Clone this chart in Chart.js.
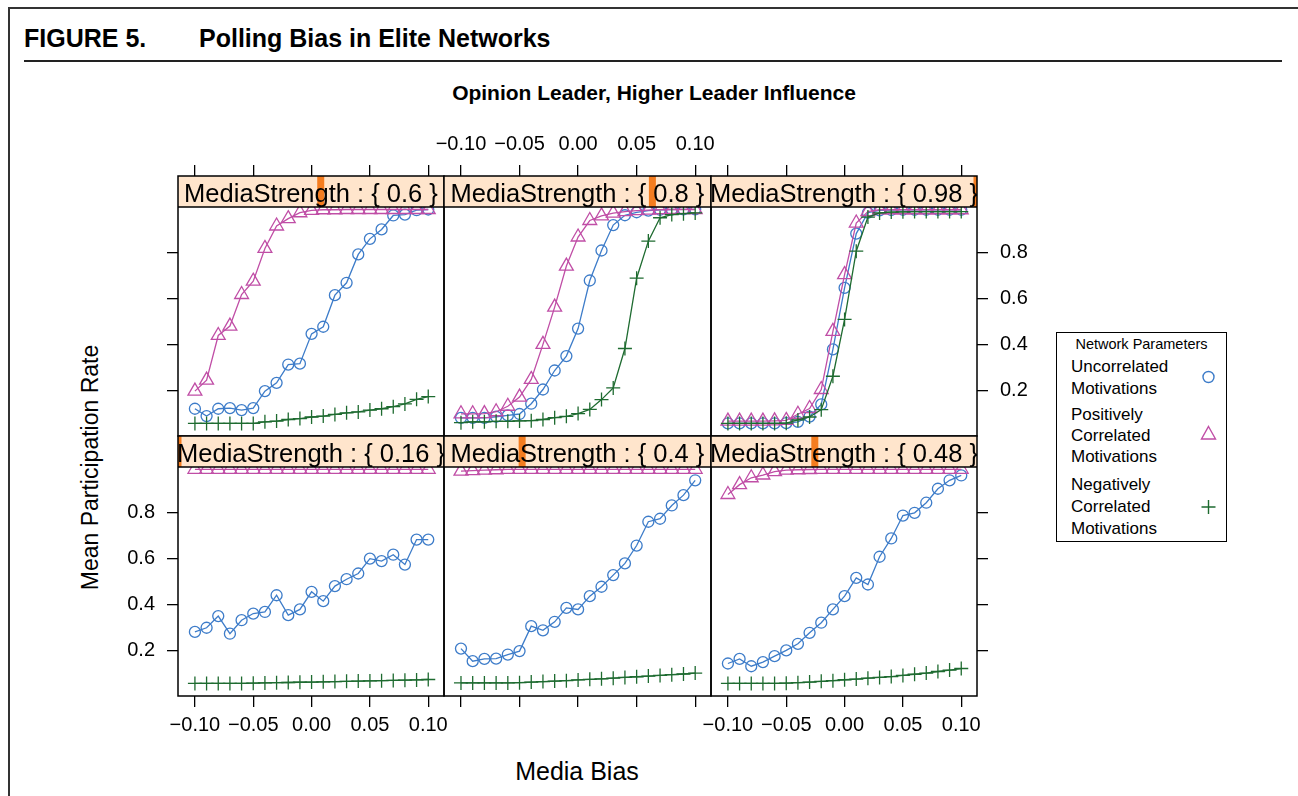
<!DOCTYPE html>
<html>
<head>
<meta charset="utf-8">
<script src="https://cdn.jsdelivr.net/npm/chart.js@4.4.1/dist/chart.umd.min.js"></script>
<style>
  html, body { margin: 0; padding: 0; background: #fff; }
  #page { position: relative; width: 1298px; height: 796px; overflow: hidden; background: #fff;
          font-family: "Liberation Sans", Arial, Helvetica, sans-serif; color: #000; }
  .abs { position: absolute; white-space: nowrap; }
  canvas.panel { position: absolute; }
  .lg { position: absolute; left: 1071px; font-size: 17px; line-height: 17px; }
</style>
</head>
<body>
<div id="page">
  <!-- page frame and figure heading -->
  <div class="abs" style="left:8px;top:7px;width:1290px;height:1.5px;background:#333;"></div>
  <div class="abs" style="left:8px;top:7px;width:1.5px;height:789px;background:#333;"></div>
  <div class="abs" style="left:24px;top:26px;font-size:25px;line-height:25px;font-weight:bold;">FIGURE 5.</div>
  <div class="abs" style="left:199px;top:26px;font-size:25px;line-height:25px;font-weight:bold;">Polling Bias in Elite Networks</div>
  <div class="abs" style="left:24px;top:60px;width:1258px;height:1.5px;background:#222;"></div>
  <div class="abs" style="left:354px;top:82px;width:600px;text-align:center;font-size:21px;line-height:21px;font-weight:bold;">Opinion Leader, Higher Leader Influence</div>

  <!-- axis titles -->
  <div class="abs" style="left:-110px;top:456px;width:400px;text-align:center;font-size:23px;line-height:23px;transform:rotate(-90deg);">Mean Participation Rate</div>
  <div class="abs" style="left:377px;top:759px;width:400px;text-align:center;font-size:25px;line-height:25px;">Media Bias</div>

  <!-- key -->
  <div class="abs" style="left:1056px;top:332px;width:171px;height:210px;border:1.5px solid #000;box-sizing:border-box;"></div>
  <div class="abs" style="left:1056px;top:337px;width:171px;text-align:center;font-size:14.5px;line-height:15px;">Network Parameters</div>
  <div class="lg" style="top:358px;">Uncorrelated</div>
  <div class="lg" style="top:380px;">Motivations</div>
  <div class="lg" style="top:406px;">Positively</div>
  <div class="lg" style="top:427px;">Correlated</div>
  <div class="lg" style="top:448px;">Motivations</div>
  <div class="lg" style="top:476px;">Negatively</div>
  <div class="lg" style="top:498px;">Correlated</div>
  <div class="lg" style="top:520px;">Motivations</div>
  <svg class="abs" style="left:1196px;top:364px;" width="26" height="160" viewBox="1196 364 26 160">
    <circle cx="1208.5" cy="377" r="5.5" fill="none" stroke="#3d7cc9" stroke-width="1.4"/>
    <polygon points="1208.5,426.5 1215.5,439 1201.5,439" fill="none" stroke="#c04ea6" stroke-width="1.4"/>
    <path d="M1201.5 507 H1215.5 M1208.5 500 V514" stroke="#1e6b30" stroke-width="1.4" fill="none"/>
  </svg>
</div>

<script>
// ---- values ----
const mediaBias = [-0.10, -0.09, -0.08, -0.07, -0.06, -0.05, -0.04, -0.03, -0.02, -0.01, 0.00,
                   0.01, 0.02, 0.03, 0.04, 0.05, 0.06, 0.07, 0.08, 0.09, 0.10];

const xTicks = [-0.10, -0.05, 0.00, 0.05, 0.10];
const xTickLabels = ['\u22120.10', '\u22120.05', '0.00', '0.05', '0.10'];
const yTicks = [0.2, 0.4, 0.6, 0.8];
const yTickLabels = ['0.2', '0.4', '0.6', '0.8'];

const mediaStrength = [0.6, 0.8, 0.98, 0.16, 0.4, 0.48];
const strengthLabels = ['0.6', '0.8', '0.98', '0.16', '0.4', '0.48'];

// MediaStrength 0.6
const uncorr06 = [0.119, 0.087, 0.119, 0.122, 0.113, 0.122, 0.196, 0.232, 0.312, 0.316, 0.446,
                  0.477, 0.615, 0.669, 0.793, 0.861, 0.902, 0.963, 0.967, 0.986, 0.989];
const pos06    = [0.196, 0.244, 0.439, 0.480, 0.618, 0.676, 0.819, 0.917, 0.949, 0.975, 0.985,
                  0.988, 0.988, 0.989, 0.989, 0.989, 0.989, 0.989, 0.989, 0.989, 0.989];
const neg06    = [0.055, 0.055, 0.055, 0.055, 0.055, 0.055, 0.062, 0.065, 0.072, 0.076, 0.083,
                  0.087, 0.094, 0.101, 0.105, 0.113, 0.119, 0.128, 0.140, 0.160, 0.172];

// MediaStrength 0.8
const uncorr08 = [0.079, 0.079, 0.079, 0.084, 0.090, 0.096, 0.141, 0.203, 0.286, 0.349, 0.469,
                  0.679, 0.810, 0.921, 0.964, 0.977, 0.984, 0.988, 0.989, 0.990, 0.990];
const pos08    = [0.097, 0.097, 0.098, 0.106, 0.130, 0.170, 0.247, 0.400, 0.563, 0.742, 0.869,
                  0.941, 0.961, 0.973, 0.980, 0.984, 0.986, 0.988, 0.989, 0.989, 0.989];
const neg08    = [0.058, 0.062, 0.062, 0.064, 0.064, 0.066, 0.067, 0.072, 0.080, 0.086, 0.098,
                  0.116, 0.159, 0.210, 0.382, 0.689, 0.851, 0.953, 0.967, 0.971, 0.974];

// MediaStrength 0.98
const uncorr098 = [0.055, 0.055, 0.055, 0.055, 0.055, 0.056, 0.062, 0.085, 0.138, 0.378, 0.647,
                   0.884, 0.975, 0.985, 0.987, 0.988, 0.988, 0.988, 0.988, 0.988, 0.988];
const pos098    = [0.065, 0.065, 0.065, 0.065, 0.066, 0.068, 0.095, 0.120, 0.203, 0.457, 0.705,
                   0.930, 0.980, 0.988, 0.988, 0.988, 0.988, 0.988, 0.988, 0.988, 0.988];
const neg098    = [0.055, 0.055, 0.055, 0.055, 0.055, 0.056, 0.070, 0.083, 0.115, 0.261, 0.509,
                   0.807, 0.956, 0.974, 0.978, 0.979, 0.980, 0.980, 0.980, 0.980, 0.980];

// MediaStrength 0.16
const uncorr016 = [0.280, 0.298, 0.349, 0.272, 0.331, 0.360, 0.367, 0.440, 0.353, 0.378, 0.455,
                   0.414, 0.480, 0.510, 0.535, 0.600, 0.589, 0.617, 0.574, 0.683, 0.683];
const pos016    = [0.990, 0.990, 0.990, 0.990, 0.990, 0.990, 0.990, 0.990, 0.990, 0.990, 0.990,
                   0.990, 0.990, 0.990, 0.990, 0.990, 0.990, 0.990, 0.990, 0.990, 0.990];
const neg016    = [0.055, 0.055, 0.055, 0.055, 0.055, 0.056, 0.057, 0.058, 0.059, 0.060, 0.061,
                   0.062, 0.063, 0.064, 0.065, 0.066, 0.067, 0.068, 0.069, 0.070, 0.072];

// MediaStrength 0.4
const uncorr04 = [0.207, 0.152, 0.162, 0.163, 0.181, 0.196, 0.305, 0.287, 0.324, 0.385, 0.378,
                  0.436, 0.477, 0.528, 0.579, 0.657, 0.761, 0.774, 0.832, 0.877, 0.942];
const pos04    = [0.982, 0.984, 0.986, 0.988, 0.990, 0.990, 0.990, 0.990, 0.990, 0.990, 0.990,
                  0.990, 0.990, 0.990, 0.990, 0.990, 0.990, 0.990, 0.990, 0.990, 0.990];
const neg04    = [0.057, 0.057, 0.057, 0.057, 0.057, 0.058, 0.061, 0.063, 0.065, 0.067, 0.070,
                  0.073, 0.075, 0.078, 0.081, 0.084, 0.087, 0.090, 0.093, 0.096, 0.100];

// MediaStrength 0.48
const uncorr048 = [0.142, 0.162, 0.130, 0.148, 0.174, 0.199, 0.228, 0.276, 0.320, 0.378, 0.436,
                   0.516, 0.487, 0.608, 0.688, 0.788, 0.800, 0.844, 0.905, 0.942, 0.963];
const pos048    = [0.880, 0.923, 0.953, 0.965, 0.980, 0.986, 0.988, 0.989, 0.990, 0.990, 0.990,
                   0.990, 0.990, 0.990, 0.990, 0.990, 0.990, 0.990, 0.990, 0.990, 0.990];
const neg048    = [0.055, 0.055, 0.055, 0.055, 0.055, 0.056, 0.058, 0.061, 0.064, 0.067, 0.071,
                   0.074, 0.078, 0.081, 0.085, 0.090, 0.095, 0.100, 0.107, 0.113, 0.120];

// ---- layout and style ----
const FONT = '"Liberation Sans", Arial, Helvetica, sans-serif';
const BLUE = '#3d7cc9', MAGENTA = '#c04ea6', GREEN = '#1e6b30';
const STRIP_BG = '#ffe5cc', STRIP_MARK = '#f47d20';
const COL_LEFT = [178, 444, 711], COL_W = [266, 267, 266];
const ROW_TOP = [176, 436], ROW_H = 260, STRIP_H = 31, M = 60;
const X_MIN = -0.1145, X_MAX = 0.1135;
const Y_MAX = ROW_H / (ROW_H - STRIP_H);   // plot region spans 0..1, strip sits above it
const LEVEL_MIN = Math.min(...mediaStrength), LEVEL_MAX = Math.max(...mediaStrength);

const panels = [
  { row: 0, col: 0, k: 0, uncorr: uncorr06,  pos: pos06,  neg: neg06  },
  { row: 0, col: 1, k: 1, uncorr: uncorr08,  pos: pos08,  neg: neg08  },
  { row: 0, col: 2, k: 2, uncorr: uncorr098, pos: pos098, neg: neg098 },
  { row: 1, col: 0, k: 3, uncorr: uncorr016, pos: pos016, neg: neg016 },
  { row: 1, col: 1, k: 4, uncorr: uncorr04,  pos: pos04,  neg: neg04  },
  { row: 1, col: 2, k: 5, uncorr: uncorr048, pos: pos048, neg: neg048 }
];

// strip with level marker on top of each panel, plus the panel frame
const stripPlugin = {
  id: 'strip',
  afterDatasetsDraw(chart, args, opts) {
    const { ctx, chartArea: a } = chart;
    const w = a.right - a.left;
    const barW = 7;
    ctx.save();
    ctx.beginPath();
    ctx.rect(a.left, a.top, w, STRIP_H);
    ctx.clip();
    ctx.fillStyle = STRIP_BG;
    ctx.fillRect(a.left, a.top, w, STRIP_H);
    const frac = (opts.level - LEVEL_MIN) / (LEVEL_MAX - LEVEL_MIN);
    ctx.fillStyle = STRIP_MARK;
    ctx.fillRect(a.left + frac * w - barW / 2, a.top, barW, STRIP_H);
    ctx.fillStyle = '#000';
    ctx.font = '25.5px ' + FONT;
    ctx.textAlign = 'center';
    ctx.textBaseline = 'alphabetic';
    ctx.fillText('MediaStrength : { ' + opts.label + ' }', (a.left + a.right) / 2, a.top + 25.5);
    ctx.restore();

    ctx.save();
    ctx.strokeStyle = '#000';
    ctx.lineWidth = 1.5;
    ctx.strokeRect(a.left, a.top, w, a.bottom - a.top);
    ctx.beginPath();
    ctx.moveTo(a.left, a.top + STRIP_H);
    ctx.lineTo(a.right, a.top + STRIP_H);
    ctx.stroke();
    ctx.restore();
  }
};

function xAxis(position, marks, labels) {
  return {
    type: 'linear', position, min: X_MIN, max: X_MAX,
    afterBuildTicks: s => { s.ticks = xTicks.map(v => ({ value: v })); },
    afterFit: s => { s.height = M; },
    border: { display: false },
    grid: { display: marks, drawOnChartArea: false, drawTicks: true, tickLength: 11,
            color: '#000', lineWidth: 1.3 },
    ticks: { display: labels, autoSkip: false, maxRotation: 0, minRotation: 0,
             padding: position === 'top' ? 9 : 6,
             color: '#000', font: { family: FONT, size: 20 },
             callback: (v, i) => xTickLabels[i] }
  };
}

function yAxis(position, marks, labels) {
  return {
    type: 'linear', position, min: 0, max: Y_MAX,
    afterBuildTicks: s => { s.ticks = yTicks.map(v => ({ value: v })); },
    afterFit: s => { s.width = M; },
    border: { display: false },
    grid: { display: marks, drawOnChartArea: false, drawTicks: true, tickLength: 11,
            color: '#000', lineWidth: 1.3 },
    ticks: { display: labels, padding: 12, color: '#000', font: { family: FONT, size: 20 },
             callback: (v, i) => yTickLabels[i] }
  };
}

function series(label, values, color, style, radius) {
  return {
    label,
    data: mediaBias.map((x, i) => ({ x, y: values[i] })),
    borderColor: color, borderWidth: 1.3, tension: 0, fill: false,
    pointStyle: style, pointRadius: radius, pointBorderColor: color,
    pointBackgroundColor: 'rgba(0,0,0,0)', pointBorderWidth: 1.3
  };
}

const page = document.getElementById('page');
panels.forEach(p => {
  const cv = document.createElement('canvas');
  cv.className = 'panel';
  const w = COL_W[p.col] + 2 * M, h = ROW_H + 2 * M;
  cv.width = w; cv.height = h;
  cv.style.width = w + 'px'; cv.style.height = h + 'px';
  cv.style.left = (COL_LEFT[p.col] - M) + 'px';
  cv.style.top = (ROW_TOP[p.row] - M) + 'px';
  page.appendChild(cv);

  const top = p.row === 0, bottom = p.row === 1;
  new Chart(cv, {
    type: 'line',
    data: {
      datasets: [
        series('Negatively Correlated Motivations', p.neg, GREEN, 'cross', 7),
        series('Positively Correlated Motivations', p.pos, MAGENTA, 'triangle', 8),
        series('Uncorrelated Motivations', p.uncorr, BLUE, 'circle', 5.5)
      ]
    },
    options: {
      responsive: false, animation: false, events: [], devicePixelRatio: 1,
      layout: { padding: 0 },
      plugins: {
        legend: { display: false }, tooltip: { enabled: false },
        strip: { level: mediaStrength[p.k], label: strengthLabels[p.k] }
      },
      scales: {
        x: xAxis('bottom', bottom, bottom && p.col !== 1),
        xTop: xAxis('top', top, top && p.col === 1),
        y: yAxis('left', p.col === 0, bottom && p.col === 0),
        yRight: yAxis('right', p.col === 2, top && p.col === 2)
      }
    },
    plugins: [stripPlugin]
  });
});
</script>
</body>
</html>
